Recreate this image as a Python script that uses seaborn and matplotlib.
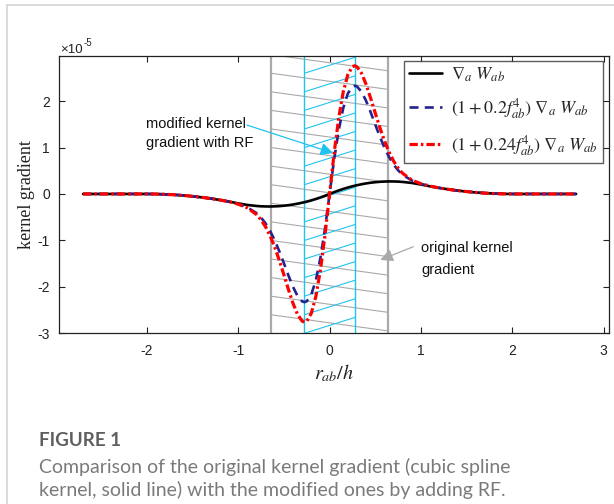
import numpy as np
import pandas as pd
import matplotlib
matplotlib.use("Agg")
import matplotlib.pyplot as plt
import seaborn as sns
from matplotlib.lines import Line2D

# r_ab / h
x_vals = [-2.7, -2.3, -2.0, -1.9, -1.8, -1.7, -1.6, -1.5, -1.4, -1.3, -1.2, -1.1,
          -1.0, -0.9, -0.8, -0.75, -0.7, -0.65, -0.6, -0.55, -0.5, -0.45, -0.4,
          -0.35, -0.3, -0.275, -0.25, -0.2, -0.15, -0.1, -0.05, 0.0,
          0.05, 0.1, 0.15, 0.2, 0.25, 0.275, 0.3, 0.35, 0.4, 0.45, 0.5, 0.55,
          0.6, 0.65, 0.7, 0.75, 0.8, 0.9, 1.0, 1.1, 1.2, 1.3, 1.4, 1.5, 1.6,
          1.7, 1.8, 1.9, 2.0, 2.3, 2.7]

# kernel gradient values, in units of 1e-5
grad_w = [0.0, 0.0, 0.0, -0.002, -0.008, -0.018, -0.032, -0.051, -0.073, -0.099,
          -0.130, -0.164, -0.203, -0.237, -0.259, -0.266, -0.269, -0.270, -0.267,
          -0.262, -0.253, -0.242, -0.227, -0.209, -0.188, -0.177, -0.165, -0.138,
          -0.108, -0.075, -0.039, 0.0,
          0.039, 0.075, 0.108, 0.138, 0.165, 0.177, 0.188, 0.209, 0.227, 0.242,
          0.253, 0.262, 0.267, 0.270, 0.269, 0.266, 0.259, 0.237, 0.203, 0.164,
          0.130, 0.099, 0.073, 0.051, 0.032, 0.018, 0.008, 0.002, 0.0, 0.0, 0.0]

grad_rf020 = [0.0, 0.0, 0.0, -0.002, -0.008, -0.018, -0.032, -0.051, -0.073, -0.099,
              -0.130, -0.167, -0.217, -0.290, -0.413, -0.510, -0.637, -0.801, -1.002,
              -1.237, -1.494, -1.758, -2.003, -2.200, -2.314, -2.329, -2.311, -2.164,
              -1.853, -1.375, -0.745, 0.0,
              0.745, 1.375, 1.853, 2.164, 2.311, 2.329, 2.314, 2.200, 2.003, 1.758,
              1.494, 1.237, 1.002, 0.801, 0.637, 0.510, 0.413, 0.290, 0.217, 0.167,
              0.130, 0.099, 0.073, 0.051, 0.032, 0.018, 0.008, 0.002, 0.0, 0.0, 0.0]

grad_rf024 = [0.0, 0.0, 0.0, -0.002, -0.008, -0.018, -0.032, -0.051, -0.073, -0.099,
              -0.130, -0.168, -0.220, -0.300, -0.444, -0.558, -0.711, -0.908, -1.149,
              -1.432, -1.743, -2.061, -2.358, -2.598, -2.738, -2.760, -2.740, -2.569,
              -2.202, -1.634, -0.886, 0.0,
              0.886, 1.634, 2.202, 2.569, 2.740, 2.760, 2.738, 2.598, 2.358, 2.061,
              1.743, 1.432, 1.149, 0.908, 0.711, 0.558, 0.444, 0.300, 0.220, 0.168,
              0.130, 0.099, 0.073, 0.051, 0.032, 0.018, 0.008, 0.002, 0.0, 0.0, 0.0]

series_labels = [
    r"$\nabla_{a}\ W_{ab}$",
    r"$\mathit{(1+0.2f}^{4}_{ab}\mathit{)}\ \nabla_{a}\ W_{ab}$",
    r"$\mathit{(1+0.24f}^{4}_{ab}\mathit{)}\ \nabla_{a}\ W_{ab}$",
]
x_ticks = [-2, -1, 0, 1, 2, 3]
y_ticks = [-3, -2, -1, 0, 1, 2]

df = pd.DataFrame({"x": x_vals, "w": grad_w, "rf020": grad_rf020, "rf024": grad_rf024})

sns.set_theme(style="white")
plt.rcParams["font.family"] = ["Liberation Sans", "DejaVu Sans"]
plt.rcParams["mathtext.fontset"] = "stix"
plt.rcParams["lines.scale_dashes"] = False

W, H = 614, 504
fig = plt.figure(figsize=(W / 100, H / 100), dpi=100)
fig.patch.set_facecolor("white")

# page frame lines
fig.add_artist(Line2D([7 / W, 1], [1 - 5 / H, 1 - 5 / H], color="#d4d4d4", lw=1.2))
fig.add_artist(Line2D([7 / W, 7 / W], [0, 1 - 5 / H], color="#d4d4d4", lw=1.2))

L, R, T, B = 59.3, 609.0, 56.0, 333.3
ax = fig.add_axes([L / W, 1 - B / H, (R - L) / W, (B - T) / H])
ax.set_facecolor("white")

# hatched bands: outer (grey) and inner (cyan)
grey = "#a9a9a9"
cyan = "#1fc3ee"
gx0, gx1 = -0.645, 0.645
cx0, cx1 = -0.275, 0.275
for y0 in np.arange(-3.0, 3.01, 0.4):
    ax.plot([gx0, gx1], [y0, y0 - 0.35], color=grey, lw=0.8, zorder=1)
for y0 in np.arange(-3.0, 2.61, 0.4):
    ax.plot([cx0, cx1], [y0, y0 + 0.34], color=cyan, lw=0.8, zorder=1.2)
for xv in (gx0, gx1):
    ax.axvline(xv, color="#aaaaaa", lw=1.6, zorder=1.5)
for xv in (cx0, cx1):
    ax.axvline(xv, color=cyan, lw=1.0, zorder=1.6)

sns.lineplot(data=df, x="x", y="w", color="black", lw=1.9, ax=ax, zorder=3)
l_w = ax.lines[-1]
sns.lineplot(data=df, x="x", y="rf020", color="#23238e", lw=1.9, ax=ax, zorder=4)
l_b = ax.lines[-1]
l_b.set_dashes([6.5, 4.5])
sns.lineplot(data=df, x="x", y="rf024", color="#ff0000", lw=2.3, ax=ax, zorder=5)
l_r = ax.lines[-1]
l_r.set_dashes([6.0, 2.2, 1.8, 2.2])

ax.set_xlim(-2.96, 3.06)
ax.set_ylim(-3.0, 2.97)
ax.set_xticks(x_ticks)
ax.set_yticks(y_ticks)
ax.set_xticklabels([str(v) for v in x_ticks])
ax.set_yticklabels([str(v) for v in y_ticks])
ax.tick_params(direction="in", length=4, width=0.8, colors="#222222",
               labelsize=10, top=True, right=True, bottom=True, left=True)
ax.tick_params(axis="x", pad=7.8)
ax.tick_params(axis="y", pad=6.7)
for s in ax.spines.values():
    s.set_visible(True)
    s.set_color("#222222")
    s.set_linewidth(0.9)

ax.set_ylabel("kernel gradient", family="Liberation Serif", fontsize=13, color="#222222")
ax.yaxis.set_label_coords(-0.045, 0.5)
ax.set_xlabel(r"$r_{ab}/h$", fontsize=14.5, color="#222222")
ax.xaxis.set_label_coords(0.5, -0.105)

# exponent of the y scale
fig.text(60 / W, 1 - 53 / H, "\u00d710", fontsize=9.5, color="#222222", va="baseline")
fig.text(83.5 / W, 1 - 46 / H, "-5", fontsize=7, color="#222222", va="baseline")

leg = ax.legend([l_w, l_b, l_r], series_labels, loc="upper right",
                bbox_to_anchor=(602.7 / W, 1 - 60.7 / H), bbox_transform=fig.transFigure,
                borderaxespad=0, fontsize=13, frameon=True, fancybox=False,
                handlelength=1.85, handletextpad=0.5, labelspacing=0.68,
                borderpad=0.25)
leg.get_frame().set_edgecolor("#333333")
leg.get_frame().set_linewidth(1.0)
leg.set_zorder(10)

# callouts
ax.annotate("", xy=(0.04, 0.88), xytext=(-0.905, 1.483),
            arrowprops=dict(arrowstyle="-|>", color=cyan, lw=0.9, mutation_scale=19,
                            shrinkA=0, shrinkB=0), zorder=6)
ax.text(-2.008, 1.505, "modified kernel", fontsize=10.5, va="center", ha="left", color="#111111")
ax.text(-2.008, 1.089, "gradient with RF", fontsize=10.5, va="center", ha="left", color="#111111")

ax.annotate("", xy=(0.555, -1.42), xytext=(0.917, -1.136),
            arrowprops=dict(arrowstyle="-|>", color="#a9a9a9", lw=0.9, mutation_scale=19,
                            shrinkA=0, shrinkB=0), zorder=6)
ax.text(1.004, -1.164, "original kernel", fontsize=10.5, va="center", ha="left", color="#111111")
ax.text(1.004, -1.638, "gradient", fontsize=10.5, va="center", ha="left", color="#111111")

# caption
fig.text(39 / W, 1 - 441 / H, "FIGURE 1", family=["Lato", "DejaVu Sans"], fontweight="bold",
         fontsize=13.5, color="#5f5f5f", va="center")
fig.text(39 / W, 1 - 467 / H, "Comparison of the original kernel gradient (cubic spline",
         family=["Lato", "DejaVu Sans"], fontsize=14, color="#7a7a7a", va="center")
fig.text(39 / W, 1 - 490 / H, "kernel, solid line) with the modified ones by adding RF.",
         family=["Lato", "DejaVu Sans"], fontsize=14, color="#7a7a7a", va="center")

fig.savefig("out.png", dpi=100)
